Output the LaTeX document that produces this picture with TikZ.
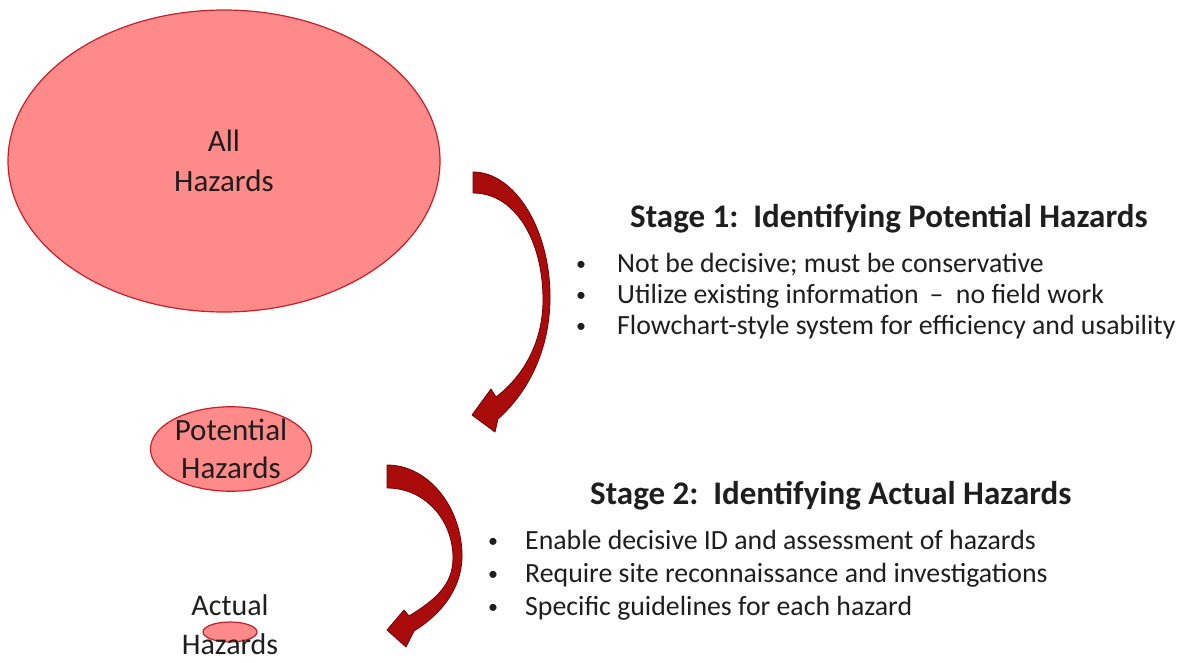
\documentclass[tikz,border=0pt]{standalone}
\usepackage{fontspec}
\setmainfont{Carlito}
\usepackage{tikz}
\usetikzlibrary{shapes, positioning}
\definecolor{hazfill}{RGB}{255,138,138}
\definecolor{hazline}{RGB}{200,30,40}
\definecolor{arrfill}{RGB}{170,12,12}
\definecolor{arrline}{RGB}{115,0,0}
\definecolor{txt}{RGB}{30,30,30}
\tikzstyle{hazard} = [ellipse, draw=hazline, fill=hazfill, line width=1.2pt,
    inner sep=0pt, align=center, text=txt]
\tikzstyle{bigarrow} = [fill=arrfill, draw=arrline, line width=0.8pt, line join=round]
\tikzstyle{stagehead} = [anchor=base west, inner sep=0pt, text=txt,
    font=\bfseries\fontsize{33}{38}\selectfont]
\tikzstyle{point} = [anchor=base west, inner sep=0pt, text=txt,
    font=\fontsize{27.8}{32}\selectfont]
\tikzstyle{dot} = [anchor=base west, inner sep=0pt, text=txt,
    font=\fontsize{20}{24}\selectfont]

\begin{document}
\begin{tikzpicture}[x=1pt, y=-1pt]
        \useasboundingbox (0,0) rectangle (1183,663);
        \begin{scope}
        \node[hazard, minimum width=432pt, minimum height=302pt,
              font=\fontsize{31}{40}\selectfont] at (224,161) (allhaz) {All\\Hazards};
        \node[hazard, minimum width=161pt, minimum height=78pt,
              font=\fontsize{31}{38}\selectfont] at (231,449) (pothaz) {Potential\\Hazards};
        \node[hazard, minimum width=54pt, minimum height=20pt] at (230,632) (acthaz) {};
        \node[align=center, inner sep=0pt, text=txt,
              font=\fontsize{30}{39}\selectfont] at (230,625) (actlabel) {Actual\\Hazards};

        % stage 1 arrow
        \draw[bigarrow] (473,172) .. controls (515,172) and (551,230) .. (550,300)
            .. controls (549,355) and (525,395) .. (498,419)
            -- (495,432) -- (472,415) -- (491,389) -- (496,397)
            .. controls (525,375) and (543,340) .. (543,300)
            .. controls (543,240) and (515,193) .. (473,193) -- cycle;
        % stage 2 arrow
        \draw[bigarrow] (387,465) .. controls (430,465) and (463,510) .. (462,558)
            .. controls (461,590) and (440,615) .. (414,631)
            -- (406,647) -- (387,630) -- (404,610) -- (409,616)
            .. controls (435,600) and (453,585) .. (453,558)
            .. controls (453,520) and (425,488) .. (387,488) -- cycle;

        \node[stagehead] at (630,227) (stage1) {Stage 1:\ \ Identifying Potential Hazards};
        \node[dot] at (576,270) (b11) {•};
        \node[point] at (617,272) (p11) {Not be decisive; must be conservative};
        \node[dot] at (576,301) (b12) {•};
        \node[point] at (617,303) (p12) {Utilize existing information \,–\ \ no field work};
        \node[dot] at (576,332) (b13) {•};
        \node[point] at (617,334) (p13) {Flowchart-style system for efficiency and usability};

        \node[stagehead] at (590,504) (stage2) {Stage 2:\ \ Identifying Actual Hazards};
        \node[dot] at (488,547) (b21) {•};
        \node[point] at (525,549) (p21) {Enable decisive ID and assessment\ of hazards};
        \node[dot] at (488,580) (b22) {•};
        \node[point] at (525,582) (p22) {Require site reconnaissance\ and investigations};
        \node[dot] at (488,613) (b23) {•};
        \node[point] at (525,615) (p23) {Specific guidelines for each hazard};
        \end{scope}
\end{tikzpicture}
\end{document}
